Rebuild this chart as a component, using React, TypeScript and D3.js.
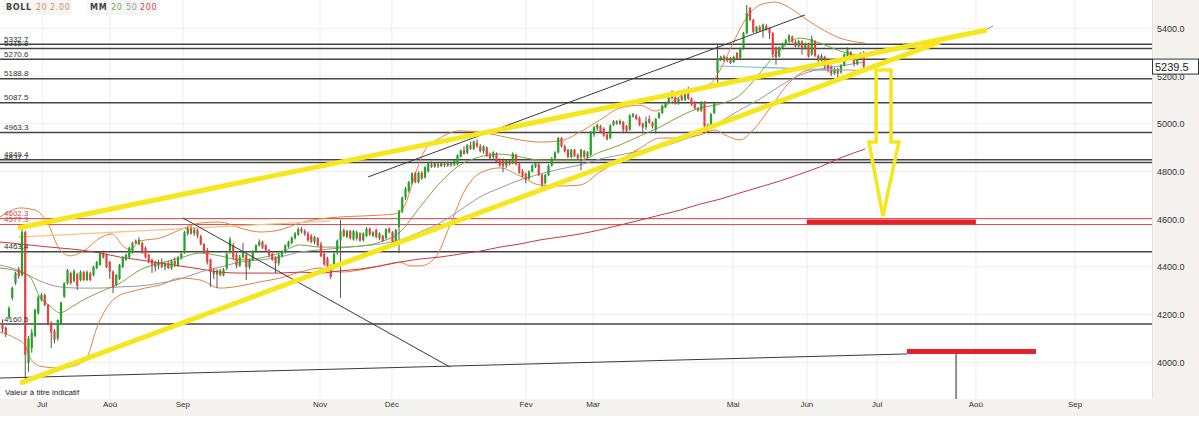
import React, { useEffect, useRef } from 'react';
import * as d3 from 'd3';

// daily candles [open, high, low, close]
const candles: [number, number, number, number][] = [
  [4165,4180,4125,4140],[4145,4150,4106,4118],[4190,4235,4180,4227],[4270,4318,4260,4311],[4332,4380,4325,4374],
  [4390,4400,4350,4362],[4366,4558,4360,4546],[4546,4552,3926,4031],[3998,4110,3960,4100],[4060,4140,4040,4125],
  [4110,4225,4105,4220],[4206,4280,4200,4273],[4262,4290,4255,4282],[4282,4288,4235,4240],[4240,4245,4155,4160],
  [4165,4172,4060,4125],[4130,4140,4080,4095],[4100,4180,4090,4177],[4165,4255,4160,4250],[4275,4335,4270,4332],
  [4332,4392,4325,4386],[4374,4380,4325,4332],[4340,4390,4335,4382],[4370,4375,4303,4320],[4345,4385,4340,4378],
  [4378,4383,4340,4345],[4345,4385,4340,4378],[4372,4380,4340,4345],[4366,4405,4360,4400],[4395,4425,4390,4420],
  [4408,4462,4405,4458],[4460,4468,4435,4440],[4450,4455,4395,4400],[4420,4425,4350,4380],[4380,4385,4290,4316],
  [4325,4370,4318,4366],[4350,4412,4345,4408],[4400,4445,4395,4440],[4430,4455,4425,4450],[4440,4485,4435,4480],
  [4460,4505,4455,4500],[4510,4515,4495,4500],[4495,4525,4490,4513],[4500,4505,4455,4460],[4480,4485,4435,4440],
  [4450,4455,4415,4420],[4430,4435,4374,4410],[4420,4425,4380,4400],[4405,4430,4390,4420],[4420,4435,4395,4400],
  [4400,4420,4385,4412],[4415,4425,4390,4395],[4395,4430,4388,4425],[4425,4440,4400,4410],[4408,4445,4400,4440],
  [4440,4460,4430,4455],[4460,4550,4455,4545],[4540,4568,4530,4560],[4560,4571,4535,4540],[4540,4565,4530,4555],
  [4555,4560,4520,4530],[4528,4535,4490,4495],[4495,4500,4455,4460],[4470,4480,4410,4420],[4430,4435,4316,4378],
  [4380,4395,4350,4370],[4368,4390,4311,4385],[4385,4392,4360,4365],[4365,4395,4360,4390],[4395,4460,4385,4455],
  [4460,4525,4455,4515],[4490,4500,4430,4440],[4450,4460,4395,4405],[4405,4450,4400,4440],[4440,4500,4435,4465],
  [4450,4455,4345,4400],[4400,4435,4390,4430],[4430,4470,4425,4465],[4465,4495,4460,4490],[4490,4515,4485,4505],
  [4505,4510,4475,4480],[4490,4495,4465,4470],[4470,4475,4440,4450],[4455,4460,4425,4430],[4440,4445,4374,4415],
  [4415,4455,4405,4450],[4445,4470,4440,4465],[4465,4495,4455,4490],[4485,4510,4480,4505],[4500,4528,4495,4522],
  [4520,4546,4515,4540],[4535,4565,4530,4558],[4560,4568,4540,4548],[4550,4558,4530,4538],[4540,4548,4505,4512],
  [4530,4537,4500,4505],[4505,4530,4495,4525],[4520,4525,4485,4490],[4495,4505,4440,4445],[4455,4460,4405,4410],
  [4435,4442,4395,4400],[4405,4410,4350,4358],[4400,4460,4395,4455],[4458,4515,4450,4510],[4510,4597,4270,4550],
  [4555,4560,4525,4530],[4525,4555,4520,4550],[4550,4555,4515,4520],[4515,4555,4510,4550],[4520,4552,4510,4545],
  [4540,4545,4505,4510],[4512,4545,4505,4540],[4530,4567,4525,4560],[4560,4565,4530,4535],[4530,4550,4525,4545],
  [4555,4560,4520,4525],[4520,4545,4512,4540],[4530,4535,4505,4508],[4520,4562,4515,4558],[4560,4565,4540,4545],
  [4545,4550,4500,4505],[4505,4560,4495,4555],[4567,4640,4458,4635],[4632,4695,4625,4690],[4690,4735,4680,4728],
  [4720,4760,4712,4755],[4752,4796,4745,4792],[4792,4798,4750,4755],[4755,4800,4750,4795],[4795,4800,4765,4770],
  [4775,4822,4770,4818],[4800,4840,4795,4836],[4830,4842,4815,4820],[4820,4840,4815,4835],[4830,4838,4815,4822],
  [4822,4840,4818,4835],[4832,4840,4818,4825],[4825,4842,4820,4838],[4835,4840,4820,4828],[4828,4850,4822,4845],
  [4830,4872,4825,4868],[4862,4892,4858,4888],[4888,4905,4870,4875],[4878,4915,4872,4910],[4910,4925,4890,4895],
  [4895,4930,4890,4925],[4920,4935,4900,4905],[4905,4915,4880,4885],[4885,4910,4875,4905],[4900,4905,4860,4865],
  [4870,4880,4850,4855],[4860,4885,4850,4880],[4875,4880,4835,4840],[4845,4855,4820,4825],[4848,4855,4797,4822],
  [4825,4850,4815,4845],[4845,4850,4825,4830],[4835,4880,4830,4875],[4870,4875,4825,4830],[4830,4835,4790,4795],
  [4800,4810,4775,4780],[4790,4795,4750,4768],[4770,4805,4765,4800],[4800,4830,4795,4825],[4820,4840,4815,4835],
  [4830,4835,4780,4785],[4785,4790,4730,4745],[4750,4790,4745,4785],[4785,4830,4780,4825],[4825,4860,4820,4855],
  [4855,4885,4850,4880],[4880,4945,4875,4940],[4940,4945,4900,4905],[4905,4912,4880,4885],[4890,4895,4856,4860],
  [4860,4895,4855,4890],[4890,4895,4860,4865],[4870,4875,4850,4855],[4860,4895,4805,4890],[4885,4890,4855,4860],
  [4860,4885,4855,4880],[4870,4970,4865,4965],[4955,4990,4945,4985],[4980,5000,4970,4995],[4990,4995,4960,4965],
  [4980,4985,4945,4950],[4955,4960,4930,4935],[4940,4998,4935,4992],[4995,5015,4990,5010],[5010,5015,4995,5000],
  [5000,5018,4995,5012],[5008,5012,4960,4975],[4990,4995,4965,4970],[4975,5040,4970,5035],[5030,5045,5025,5040],
  [5035,5040,5015,5020],[5025,5030,4990,4995],[5000,5005,4960,4985],[4985,5030,4975,5010],[5020,5035,5000,5005],
  [5005,5010,4980,4990],[4975,5025,4960,5020],[5025,5050,5020,5045],[5045,5080,5040,5075],[5070,5092,5065,5088],
  [5090,5130,5085,5125],[5125,5140,5100,5108],[5110,5115,5080,5085],[5085,5110,5080,5105],[5115,5120,5095,5100],
  [5100,5135,5095,5130],[5135,5155,5100,5105],[5105,5110,5075,5080],[5090,5095,5060,5065],[5065,5070,5050,5055],
  [5055,5095,5050,5090],[5090,5095,4980,4990],[4995,5000,4965,4975],[4985,5045,4980,5040],[5045,5090,5040,5085],
  [5213,5330,5163,5276],[5270,5285,5262,5280],[5282,5288,5260,5265],[5265,5280,5258,5275],[5275,5280,5250,5255],
  [5258,5285,5255,5280],[5297,5300,5268,5272],[5275,5320,5270,5315],[5317,5385,5310,5380],[5380,5498,5375,5464],
  [5485,5490,5430,5435],[5435,5440,5380,5385],[5385,5410,5380,5405],[5405,5412,5385,5390],[5390,5420,5360,5415],
  [5410,5418,5390,5395],[5400,5405,5355,5380],[5380,5385,5280,5290],[5320,5325,5247,5278],[5282,5325,5278,5320],
  [5318,5340,5312,5335],[5335,5355,5330,5350],[5348,5375,5342,5370],[5365,5370,5340,5345],[5345,5350,5320,5325],
  [5325,5352,5320,5345],[5345,5350,5290,5315],[5315,5340,5310,5335],[5335,5340,5278,5282],[5290,5370,5285,5355],
  [5345,5350,5280,5285],[5285,5290,5260,5265],[5265,5292,5260,5285],[5280,5285,5230,5240],[5250,5255,5215,5225],
  [5240,5245,5200,5210],[5210,5235,5205,5230],[5230,5235,5184,5210],[5215,5250,5210,5245],[5245,5295,5240,5290],
  [5285,5320,5280,5310],[5300,5305,5270,5275],[5270,5275,5240,5250],[5250,5290,5245,5285],[5280,5300,5272,5295],
  [5297,5305,5230,5239.5],
];

// indicator curves as [candle index, value]
const ma20: [number, number][] = [
  [-0.8,4395],[5.4,4378],[8.5,4357],[11.5,4274],[14.6,4236],[17.7,4207],[20.8,4228],[23.8,4253],[30,4295],
  [36.2,4332],[42.3,4387],[48.5,4416],[54.6,4437],[60.8,4458],[66.9,4446],[73.1,4429],[79.2,4437],[85.4,4458],
  [91.5,4492],[97.7,4483],[103.8,4483],[110,4487],[116.2,4504],[122.3,4546],[128.5,4651],[134.6,4752],
  [140.8,4827],[146.9,4861],[153.1,4873],[159.2,4861],[165.4,4848],[171.5,4848],[177.7,4848],[183.8,4881],
  [190,4911],[196.2,4949],[202.3,4986],[208.5,5032],[214.6,5066],[220.8,5083],[226.9,5120],[233.1,5213],
  [239.2,5309],[245.4,5359],[251.5,5338],[257.7,5305],[265.4,5280],
];
const ma50: [number, number][] = [
  [-0.8,4408],[5.4,4383],[11.5,4341],[17.7,4316],[23.8,4311],[30,4311],[36.2,4316],[42.3,4320],[48.5,4332],
  [54.6,4349],[60.8,4378],[66.9,4399],[73.1,4420],[79.2,4429],[85.4,4441],[91.5,4462],[97.7,4471],[103.8,4479],
  [110,4487],[116.2,4496],[122.3,4513],[128.5,4546],[134.6,4584],[140.8,4638],[146.9,4693],[153.1,4731],
  [159.2,4764],[165.4,4789],[171.5,4810],[177.7,4827],[183.8,4852],[190,4869],[196.2,4886],[202.3,4902],
  [208.5,4928],[214.6,4961],[220.8,5007],[226.9,5058],[233.1,5104],[239.2,5158],[245.4,5204],[251.5,5229],
  [257.7,5242],[265.4,5259],
];
const ma200: [number, number][] = [
  [-0.8,4504],[5.4,4496],[11.5,4487],[17.7,4479],[23.8,4471],[30,4458],[36.2,4441],[42.3,4429],[48.5,4416],
  [54.6,4404],[60.8,4391],[66.9,4378],[73.1,4374],[79.2,4374],[85.4,4374],[91.5,4378],[97.7,4374],[103.8,4383],
  [110,4391],[116.2,4404],[122.3,4420],[128.5,4433],[134.6,4441],[140.8,4454],[146.9,4466],[153.1,4483],
  [159.2,4496],[165.4,4513],[171.5,4525],[177.7,4538],[183.8,4555],[190,4575],[196.2,4596],[202.3,4617],
  [208.5,4638],[214.6,4663],[220.8,4684],[226.9,4710],[233.1,4735],[239.2,4760],[245.4,4789],[251.5,4819],
  [257.7,4856],[265.4,4894],
];
const bollUp: [number, number][] = [
  [-0.8,4609],[2.3,4634],[5.4,4647],[10,4638],[13.7,4588],[17.7,4471],[20.8,4446],[25.4,4471],[30,4521],
  [33.7,4538],[36.8,4492],[39.2,4471],[42.3,4508],[48.5,4521],[54.6,4555],[60.8,4584],[66.9,4588],[73.1,4563],
  [79.2,4546],[85.4,4555],[91.5,4584],[97.7,4601],[103.8,4609],[110,4613],[116.2,4617],[120.8,4622],
  [123.8,4659],[126.9,4785],[130,4890],[134.6,4940],[140.8,4970],[146.9,4965],[153.1,4949],[159.2,4932],
  [165.4,4923],[171.5,4928],[177.7,4965],[183.8,5016],[190,5066],[196.2,5078],[200.8,5053],[205.4,5087],
  [211.5,5141],[217.7,5166],[220.8,5225],[223.8,5309],[228.5,5435],[233.1,5498],[237.7,5510],[242.3,5485],
  [245.4,5456],[251.5,5401],[257.7,5359],[265.4,5338],
];
const bollLow: [number, number][] = [
  [-0.8,4127],[3.8,4102],[6.9,4072],[8.5,4018],[11.5,3984],[17.7,3976],[22.9,3989],[26,4022],[29.1,4148],
  [33.1,4248],[36.2,4282],[39.2,4295],[43.8,4311],[48.5,4324],[54.6,4353],[60.8,4345],[66.9,4311],[73.1,4320],
  [79.2,4337],[85.4,4353],[91.5,4378],[97.7,4395],[103.8,4378],[110,4387],[116.2,4404],[122.3,4420],
  [125.4,4404],[128.5,4404],[133.1,4437],[137.7,4575],[142.3,4722],[146.9,4793],[153.1,4815],[159.2,4781],
  [165.4,4743],[171.5,4739],[177.7,4743],[183.8,4798],[190,4848],[196.2,4898],[202.3,4940],[208.5,4940],
  [214.6,4953],[219.2,4974],[222.3,4953],[226.9,4932],[231.5,4982],[236.2,5066],[242.3,5175],[248.5,5225],
  [254.6,5225],[260.8,5225],[265.4,5217],
];

const levelsBlack = [5332.7, 5315.8, 5270.6, 5188.8, 5087.5, 4963.3, 4849.4, 4837.7, 4463.4, 4160.5];
const levelsRed = [4602.3, 4577.3];
const yTicks = [4000, 4200, 4400, 4600, 4800, 5000, 5200, 5400];
const monthLabels = ['Jul', 'Aoû', 'Sep', 'Nov', 'Déc', 'Fév', 'Mar', 'Mai', 'Jun', 'Jul', 'Aoû', 'Sep'];
const monthIdx = [12.2, 33.1, 55.5, 97.7, 119.8, 161.1, 181.7, 224.8, 247.5, 269.1, 299.5, 330];
const lastPrice = 5239.5;

// hand-drawn annotations, endpoints as [index, value]
const yellowLines: [number, number][][] = [
  [[4.8, 4563], [302.9, 5393]],
  [[5.4, 3913], [288.5, 5343]],
];
const thinLines: [number, number][][] = [
  [[112.5, 4777], [246.9, 5456]],
  [[55.5, 4605], [137.7, 3980]],
  [[-0.8, 3934], [278.3, 4035]],
];
const tanLine: [number, number][] = [[4.8, 4525], [100.8, 4592]];
const blueLines: [number, number][][] = [
  [[220.2, 5242], [258.3, 5225]],
  [[302.3, 5393], [304.8, 5410]],
];
const redBars: [number, number, number][] = [[247.5, 299.5, 4588], [278.3, 318, 4045]];
const dropLine: [number, number, number] = [293.4, 4045, 3846];
const arrowPts: [number, number][] = [
  [268.8, 5225], [273.4, 5225], [273.4, 4923], [275.8, 4923], [270.9, 4613], [266.6, 4923], [268.8, 4923],
];

export default function App() {
  const svgRef = useRef<SVGSVGElement>(null);

  useEffect(() => {
    if (!svgRef.current) return;
    const W = 1199, H = 426, PR = 1152, PB = 399;
    const svg = d3.select(svgRef.current);
    svg.selectAll('*').remove();

    const x = d3.scaleLinear().domain([0, candles.length - 1]).range([2.5, 863.75]);
    const y = d3.scaleLinear().domain([4000, 5400]).range([362.3, 28.3]);
    const axisFont = 'Arial, "Liberation Sans", sans-serif';

    svg.append('rect').attr('width', W).attr('height', H).attr('fill', '#fff');
    svg.append('rect').attr('x', PR).attr('y', 0).attr('width', W - PR).attr('height', 416).attr('fill', '#f4f3f0');
    svg.append('rect').attr('x', 0).attr('y', PB).attr('width', W).attr('height', 416 - PB).attr('fill', '#f4f3f0');

    svg.append('defs').append('clipPath').attr('id', 'plot')
      .append('rect').attr('width', PR).attr('height', PB);
    const g = svg.append('g').attr('clip-path', 'url(#plot)');

    // grid
    g.selectAll(null).data(yTicks).enter().append('line')
      .attr('x1', 0).attr('x2', PR).attr('y1', d => y(d)).attr('y2', d => y(d))
      .attr('stroke', '#ededed').attr('stroke-width', 1);
    g.selectAll(null).data(monthIdx).enter().append('line')
      .attr('x1', d => x(d)).attr('x2', d => x(d)).attr('y1', 0).attr('y2', PB)
      .attr('stroke', '#ededed').attr('stroke-width', 1);

    // support / resistance levels
    g.selectAll(null).data(levelsBlack).enter().append('line')
      .attr('x1', 0).attr('x2', PR).attr('y1', d => y(d)).attr('y2', d => y(d))
      .attr('stroke', '#444').attr('stroke-width', 1.5);
    g.selectAll(null).data(levelsRed).enter().append('line')
      .attr('x1', 0).attr('x2', PR).attr('y1', d => y(d)).attr('y2', d => y(d))
      .attr('stroke', '#d24a4a').attr('stroke-width', 1);

    // indicators
    const line = d3.line<[number, number]>().x(d => x(d[0])).y(d => y(d[1])).curve(d3.curveMonotoneX);
    const series: [[number, number][], string][] = [
      [bollUp, '#e3833f'], [bollLow, '#e3833f'], [ma200, '#c8383d'], [ma50, '#9a9a9a'], [ma20, '#7aa83c'],
    ];
    series.forEach(([pts, color]) => {
      g.append('path').attr('d', line(pts)).attr('fill', 'none')
        .attr('stroke', color).attr('stroke-width', 1);
    });

    // tan trend line
    g.append('path').attr('d', d3.line<[number, number]>().x(d => x(d[0])).y(d => y(d[1]))(tanLine))
      .attr('stroke', '#f0c48a').attr('stroke-width', 1.2).attr('fill', 'none');

    // candles
    const cg = g.append('g');
    cg.selectAll(null).data(candles).enter().append('line')
      .attr('x1', (_, i) => x(i)).attr('x2', (_, i) => x(i))
      .attr('y1', d => y(d[1])).attr('y2', d => y(d[2]))
      .attr('stroke', '#555').attr('stroke-width', 1);
    cg.selectAll(null).data(candles).enter().append('rect')
      .attr('x', (_, i) => x(i) - 1.1).attr('width', 2.2)
      .attr('y', d => y(Math.max(d[0], d[3])))
      .attr('height', d => Math.max(1, Math.abs(y(d[0]) - y(d[3]))))
      .attr('fill', d => (d[3] >= d[0] ? '#22a522' : '#e8413c'));

    // thin drawn lines
    const straight = d3.line<[number, number]>().x(d => x(d[0])).y(d => y(d[1]));
    thinLines.forEach(pts => {
      g.append('path').attr('d', straight(pts)).attr('stroke', '#3a3a3a')
        .attr('stroke-width', 1).attr('fill', 'none');
    });
    blueLines.forEach(pts => {
      g.append('path').attr('d', straight(pts)).attr('stroke', '#6fb8e0')
        .attr('stroke-width', 1.2).attr('fill', 'none');
    });

    // drop line + red target bars
    g.append('line').attr('x1', x(dropLine[0])).attr('x2', x(dropLine[0]))
      .attr('y1', y(dropLine[1])).attr('y2', y(dropLine[2]))
      .attr('stroke', '#555').attr('stroke-width', 1.3);
    g.selectAll(null).data(redBars).enter().append('line')
      .attr('x1', d => x(d[0])).attr('x2', d => x(d[1]))
      .attr('y1', d => y(d[2])).attr('y2', d => y(d[2]))
      .attr('stroke', '#e4222a').attr('stroke-width', 5);

    // yellow channel
    yellowLines.forEach(pts => {
      g.append('path').attr('d', straight(pts)).attr('stroke', '#f6e61c')
        .attr('stroke-width', 5).attr('fill', 'none');
    });
    g.append('path').attr('d', straight(arrowPts) + 'Z')
      .attr('stroke', '#f6e61c').attr('stroke-width', 3.5).attr('fill', 'none')
      .attr('stroke-linejoin', 'miter');

    // level labels (they overlap in pairs, as on the original)
    const lbl = svg.append('g').attr('font-family', axisFont).attr('font-size', 8);
    lbl.selectAll(null).data(levelsBlack).enter().append('text')
      .attr('x', 4).attr('y', d => y(d) - 2.5).attr('fill', '#333').text(d => d.toFixed(1));
    lbl.selectAll(null).data(levelsRed).enter().append('text')
      .attr('x', 4).attr('y', d => y(d) - 2.5).attr('fill', '#d24a4a').text(d => d.toFixed(1));

    svg.append('text').attr('x', 5).attr('y', 395).attr('font-family', axisFont)
      .attr('font-size', 8).attr('fill', '#222').text('Valeur à titre indicatif');

    // right axis
    svg.append('line').attr('x1', PR + 0.5).attr('x2', PR + 0.5).attr('y1', 0).attr('y2', PB)
      .attr('stroke', '#e2e2e2');
    svg.selectAll(null).data(yTicks).enter().append('text')
      .attr('x', 1157).attr('y', d => y(d) + 3.5)
      .attr('font-family', axisFont).attr('font-size', 9).attr('fill', '#333')
      .text(d => d3.format('.1f')(d));

    // bottom axis
    svg.selectAll(null).data(monthIdx).enter().append('text')
      .attr('x', d => x(d)).attr('y', 407).attr('text-anchor', 'middle')
      .attr('font-family', axisFont).attr('font-size', 8).attr('fill', '#333')
      .text((_, i) => monthLabels[i]);

    // last price box
    const ly = y(lastPrice);
    svg.append('rect').attr('x', PR + 0.5).attr('y', ly - 7.5).attr('width', 46).attr('height', 15)
      .attr('fill', '#fff').attr('stroke', '#333').attr('stroke-width', 1);
    svg.append('text').attr('x', PR + 3).attr('y', ly + 4).attr('font-family', axisFont)
      .attr('font-size', 11).attr('fill', '#222').text(lastPrice.toFixed(1));

    // legend
    const lg = svg.append('g').attr('font-family', '"DejaVu Sans", sans-serif')
      .attr('font-size', 8).attr('letter-spacing', 0.7);
    lg.append('rect').attr('x', 3).attr('y', 0).attr('width', 69).attr('height', 15).attr('fill', '#f6f6f6');
    lg.append('rect').attr('x', 87).attr('y', 0).attr('width', 72).attr('height', 15).attr('fill', '#f6f6f6');
    const legendItems: [string, number, string, boolean][] = [
      ['BOLL', 6, '#444', true], ['20', 36, '#e58a4c', false], ['2.00', 50, '#e58a4c', false],
      ['MM', 90, '#444', true], ['20', 111, '#6fae3f', false], ['50', 126, '#999', false], ['200', 140, '#d84545', false],
    ];
    legendItems.forEach(([t, lx, c, b]) => {
      lg.append('text').attr('x', lx).attr('y', 10).attr('fill', c)
        .attr('font-weight', b ? 'bold' : 'normal').text(t);
    });
  }, []);

  return (
    <div style={{ position: 'absolute', left: 0, top: 0 }}>
      <svg ref={svgRef} width={1199} height={426}></svg>
    </div>
  );
}
